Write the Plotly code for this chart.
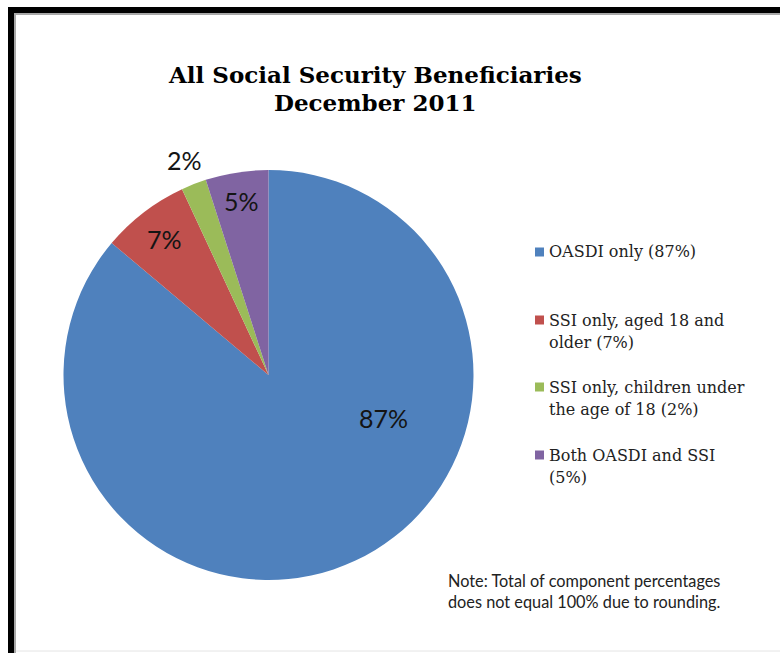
import math
import plotly.graph_objects as go

# ---- data -------------------------------------------------------------
categories = [
    "OASDI only",
    "SSI only, aged 18 and\nolder",
    "SSI only, children under\nthe age of 18",
    "Both OASDI and SSI\n",
]
shares = [87, 7, 2, 5]
colors = ["#4F81BD", "#C0504D", "#9BBB59", "#8064A2"]

# where each percentage label sits: (fraction of the slice's sweep, fraction of radius)
label_spots = [(0.357, 0.60), (0.5, 0.835), (0.5, 1.125), (0.5, 0.86)]

title_lines = ["All Social Security Beneficiaries", "December 2011"]
note_lines = ["Note: Total of component percentages",
              "does not equal 100% due to rounding."]

# ---- canvas geometry (pixels) ----------------------------------------
W, H = 780, 653
PIE_X0, PIE_X1 = 63.5, 473.5
PIE_Y0, PIE_Y1 = 170, 580          # measured from the top


def px(x):
    return x / W


def py(y):
    return 1 - y / H


fig = go.Figure()
fig.add_trace(go.Pie(
    values=shares,
    labels=[c.replace("\n", " ") for c in categories],
    marker=dict(colors=colors, line=dict(width=0)),
    sort=False,
    direction="clockwise",
    rotation=0,
    textinfo="none",
    hoverinfo="label+value",
    showlegend=False,
    domain=dict(x=[px(PIE_X0), px(PIE_X1)], y=[py(PIE_Y1), py(PIE_Y0)]),
))

annotations = []

# percentage labels, placed from the slice angles
cx = (PIE_X0 + PIE_X1) / 2
cy = (PIE_Y0 + PIE_Y1) / 2
R = min(PIE_X1 - PIE_X0, PIE_Y1 - PIE_Y0) / 2
total = sum(shares)
start = 0.0
for v, (afrac, rfrac) in zip(shares, label_spots):
    sweep = 360.0 * v / total
    theta = math.radians(start + afrac * sweep)
    lx = cx + rfrac * R * math.sin(theta)
    ly = cy - rfrac * R * math.cos(theta)
    annotations.append(dict(
        x=px(lx), y=py(ly), xref="paper", yref="paper",
        text=f"{v}%", showarrow=False, xanchor="center", yanchor="middle",
        font=dict(family="Lato", size=25, color="#141414"),
    ))
    start += sweep

# title
for i, t in enumerate(title_lines):
    annotations.append(dict(
        x=px(375), y=py(74 + 28 * i), xref="paper", yref="paper",
        text=f"<b>{t}</b>", showarrow=False, xanchor="center", yanchor="middle",
        font=dict(family="DejaVu Serif", size=23, color="#000000"),
    ))

# legend
shapes = []
LEG_TOP = [252, 320, 387, 455]
LINE_STEP = 22.5
for name, v, col, top in zip(categories, shares, colors, LEG_TOP):
    text = (name if name.endswith("\n") else name + " ") + f"({v}%)"
    for j, line in enumerate(text.split("\n")):
        annotations.append(dict(
            x=px(547), y=py(top + LINE_STEP * j), xref="paper", yref="paper",
            text=line, showarrow=False, xanchor="left", yanchor="middle",
            font=dict(family="DejaVu Serif", size=16, color="#222222"),
        ))
    shapes.append(dict(
        type="rect", xref="paper", yref="paper",
        x0=px(535), x1=px(544), y0=py(top + 4.5), y1=py(top - 4.5),
        fillcolor=col, line=dict(width=0),
    ))

# footnote
for i, t in enumerate(note_lines):
    annotations.append(dict(
        x=px(446), y=py(580 + 21.5 * i), xref="paper", yref="paper",
        text=t, showarrow=False, xanchor="left", yanchor="middle",
        font=dict(family="Lato", size=16.3, color="#222222"),
    ))

# frame: heavy black top/left edge with a grey inner line
shapes += [
    dict(type="rect", xref="paper", yref="paper",
         x0=px(8), x1=px(14), y0=py(H), y1=py(7),
         fillcolor="#000000", line=dict(width=0)),
    dict(type="rect", xref="paper", yref="paper",
         x0=px(8), x1=px(W), y0=py(13), y1=py(7),
         fillcolor="#000000", line=dict(width=0)),
    dict(type="rect", xref="paper", yref="paper",
         x0=px(14), x1=px(16), y0=py(H), y1=py(13),
         fillcolor="#A8A8A8", line=dict(width=0)),
    dict(type="rect", xref="paper", yref="paper",
         x0=px(14), x1=px(W), y0=py(15), y1=py(13),
         fillcolor="#A8A8A8", line=dict(width=0)),
    dict(type="line", xref="paper", yref="paper",
         x0=px(16), x1=px(W), y0=py(651), y1=py(651),
         line=dict(color="#E4E4E4", width=1)),
]

fig.update_layout(
    width=W, height=H,
    margin=dict(l=0, r=0, t=0, b=0),
    paper_bgcolor="#FFFFFF",
    plot_bgcolor="#FFFFFF",
    annotations=annotations,
    shapes=shapes,
    showlegend=False,
)

fig.write_html("out.html")
